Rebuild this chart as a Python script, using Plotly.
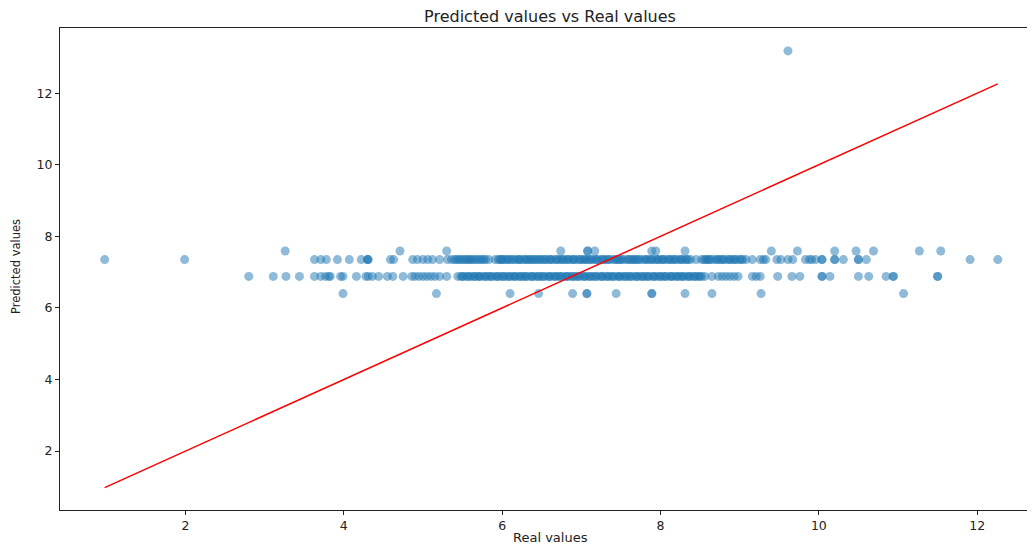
import plotly.graph_objects as go

# Predicted level rows (predicted value -> list of real values)
pred_level_a = 7.59
real_at_a = [3.26, 4.71, 5.30, 6.74, 7.08, 7.08, 7.17, 7.89, 7.94, 8.31, 9.40, 9.73,
             10.20, 10.47, 10.69, 11.27, 11.54]

pred_level_b = 7.35
real_at_b = [0.98, 1.99, 3.63, 3.71, 3.78, 3.92, 4.07, 4.22, 4.30, 4.30, 4.31, 4.59, 4.63,
             4.87, 4.93, 5.00, 5.06, 5.12, 5.21, 5.31,
             5.36, 5.40, 5.42, 5.47, 5.50, 5.55, 5.57, 5.61, 5.66, 5.69, 5.72, 5.77, 5.83,
             5.91, 5.95, 5.99, 6.02, 6.05, 6.09, 6.12, 6.17, 6.20, 6.23, 6.27, 6.31, 6.34,
             6.38, 6.42, 6.45, 6.49, 6.52, 6.56, 6.60, 6.63, 6.67, 6.71, 6.74, 6.78, 6.81,
             6.85, 6.89, 6.92, 6.96, 7.00, 7.03, 7.07, 7.10, 7.14, 7.18, 7.21, 7.25, 7.29,
             7.32, 7.36, 7.40, 7.43, 7.47, 7.51, 7.54, 7.58, 7.62, 7.65, 7.69, 7.73, 7.76,
             7.80, 7.84, 7.87, 7.91, 7.95, 7.98, 8.02, 8.05, 8.09, 8.13, 8.16, 8.20, 8.24,
             8.27, 8.31, 8.35, 8.38, 8.45, 8.52, 8.55, 8.59, 8.63, 8.66, 8.70, 8.74, 8.77,
             8.81, 8.85, 8.89, 8.92, 8.96, 9.00, 9.04, 9.08, 9.16, 9.26, 9.30, 9.33, 9.47,
             9.52, 9.61, 9.67, 9.83, 9.88, 9.91, 9.96, 10.04, 10.04, 10.20, 10.20, 10.31,
             10.50, 10.50, 10.60, 11.91, 12.26,
             # repeated readings over the densest stretch (overlapping points)
             5.52, 5.64, 5.79, 6.00, 6.14, 6.29, 6.40, 6.54, 6.69, 6.83, 6.98, 7.12, 7.27,
             7.45, 7.60, 7.71, 7.89, 8.03, 8.18, 8.33, 8.61, 8.79, 8.94,
             5.45, 5.59, 5.74, 5.97, 6.07, 6.22, 6.35, 6.47, 6.61, 6.76, 6.90, 7.05, 7.19,
             7.34, 7.49, 7.66, 7.82, 7.96, 8.11, 8.26, 8.57, 8.72, 8.87, 9.02]

pred_level_c = 6.88
real_at_c = [2.80, 3.11, 3.27, 3.44, 3.63, 3.71, 3.77, 3.81, 3.83, 3.96, 3.99, 4.16, 4.28,
             4.31, 4.36, 4.44, 4.55, 4.62, 4.75, 4.86, 4.90, 4.95, 5.00, 5.05, 5.10, 5.15,
             5.21, 5.30,
             5.44, 5.48, 5.51, 5.55, 5.59, 5.62, 5.66, 5.70, 5.73, 5.77, 5.81, 5.84, 5.88,
             5.92, 5.95, 5.99, 6.03, 6.06, 6.10, 6.14, 6.17, 6.21, 6.25, 6.28, 6.32, 6.36,
             6.39, 6.43, 6.47, 6.50, 6.54, 6.58, 6.61, 6.65, 6.69, 6.72, 6.76, 6.80, 6.83,
             6.87, 6.91, 6.94, 6.98, 7.02, 7.05, 7.09, 7.13, 7.16, 7.20, 7.24, 7.27, 7.31,
             7.35, 7.38, 7.42, 7.46, 7.49, 7.53, 7.57, 7.60, 7.64, 7.68, 7.71, 7.75, 7.79,
             7.82, 7.86, 7.90, 7.93, 7.97, 8.01, 8.04, 8.08, 8.12, 8.15, 8.19, 8.23, 8.26,
             8.30, 8.34, 8.37, 8.41, 8.45, 8.48, 8.52, 8.56, 8.65, 8.73, 8.78, 8.83, 8.88,
             8.93, 8.98, 9.16, 9.21, 9.26, 9.48, 9.66, 9.76, 10.04, 10.04, 10.14, 10.50,
             10.63, 10.85, 10.94, 10.94, 11.50, 11.50,
             # repeated readings over the densest stretch (overlapping points)
             5.57, 5.71, 5.86, 6.01, 6.16, 6.30, 6.45, 6.60, 6.74, 6.89, 7.04, 7.18, 7.33,
             7.48, 7.62, 7.77, 7.92, 8.06, 8.21, 8.36, 8.50,
             5.50, 5.65, 5.79, 5.94, 6.09, 6.23, 6.38, 6.52, 6.67, 6.82, 6.96, 7.11, 7.26,
             7.40, 7.55, 7.70, 7.84, 7.99, 8.14, 8.28, 8.43]

pred_level_d = 6.40
real_at_d = [3.99, 5.17, 6.10, 6.46, 6.89, 7.07, 7.07, 7.44, 7.89, 7.89, 8.31, 8.65, 9.27,
             11.07]

outlier_real = [9.61]
outlier_pred = [13.18]

real_values = real_at_a + real_at_b + real_at_c + real_at_d + outlier_real
predicted_values = ([pred_level_a] * len(real_at_a) + [pred_level_b] * len(real_at_b)
                    + [pred_level_c] * len(real_at_c) + [pred_level_d] * len(real_at_d)
                    + outlier_pred)

x_ticks = [2, 4, 6, 8, 10, 12]
y_ticks = [2, 4, 6, 8, 10, 12]

fig = go.Figure()
fig.add_trace(go.Scatter(
    x=real_values, y=predicted_values, mode="markers",
    marker=dict(color="rgba(31,119,180,0.5)", size=9, line=dict(width=0)),
    showlegend=False, hoverinfo="skip"))
line_ends = [min(real_values), max(real_values)]
fig.add_trace(go.Scatter(
    x=line_ends, y=line_ends, mode="lines",
    line=dict(color="red", width=1.5), showlegend=False, hoverinfo="skip"))

axis_common = dict(showgrid=False, zeroline=False, showline=True, linecolor="#222",
                   linewidth=1, ticks="outside", ticklen=4, tickcolor="#222",
                   tickfont=dict(family="DejaVu Sans", size=12.5, color="#222"))

fig.update_xaxes(range=[0.416, 12.73], tickvals=x_ticks, ticktext=[str(t) for t in x_ticks],
                 mirror=True, **axis_common)
fig.update_yaxes(range=[0.355, 13.82], tickvals=y_ticks, ticktext=[str(t) for t in y_ticks],
                 **axis_common)

# page has an 8px body margin, so the figure is laid out 8px smaller / shifted
W, H, OFF = 1027, 537, 8
plot_l, plot_t, plot_b = 60 - OFF, 28 - OFF, 510 - OFF
plot_w, plot_h = W - plot_l, plot_b - plot_t

fig.update_layout(
    width=W, height=H,
    margin=dict(l=plot_l, r=0, t=plot_t, b=H - plot_b),
    paper_bgcolor="white", plot_bgcolor="white",
    font=dict(family="DejaVu Sans", color="#222"),
    title=dict(text="Predicted values vs Real values", x=(550 - OFF) / W, xref="container",
               xanchor="center", y=1 - (16 - OFF) / H, yref="container", yanchor="middle",
               font=dict(size=16, family="DejaVu Sans", color="#222")),
    annotations=[
        dict(text="Real values", xref="paper", yref="paper", x=(550 - OFF - plot_l) / plot_w,
             y=(plot_b - (537 - OFF)) / plot_h, xanchor="center", yanchor="middle",
             showarrow=False, font=dict(size=13, family="DejaVu Sans", color="#222")),
        dict(text="Predicted values", xref="paper", yref="paper",
             x=(16 - OFF - plot_l) / plot_w, y=(plot_b - (267 - OFF)) / plot_h,
             xanchor="center", yanchor="middle", textangle=-90,
             showarrow=False, font=dict(size=11.5, family="DejaVu Sans", color="#222")),
    ],
)

fig.write_html("out.html")
